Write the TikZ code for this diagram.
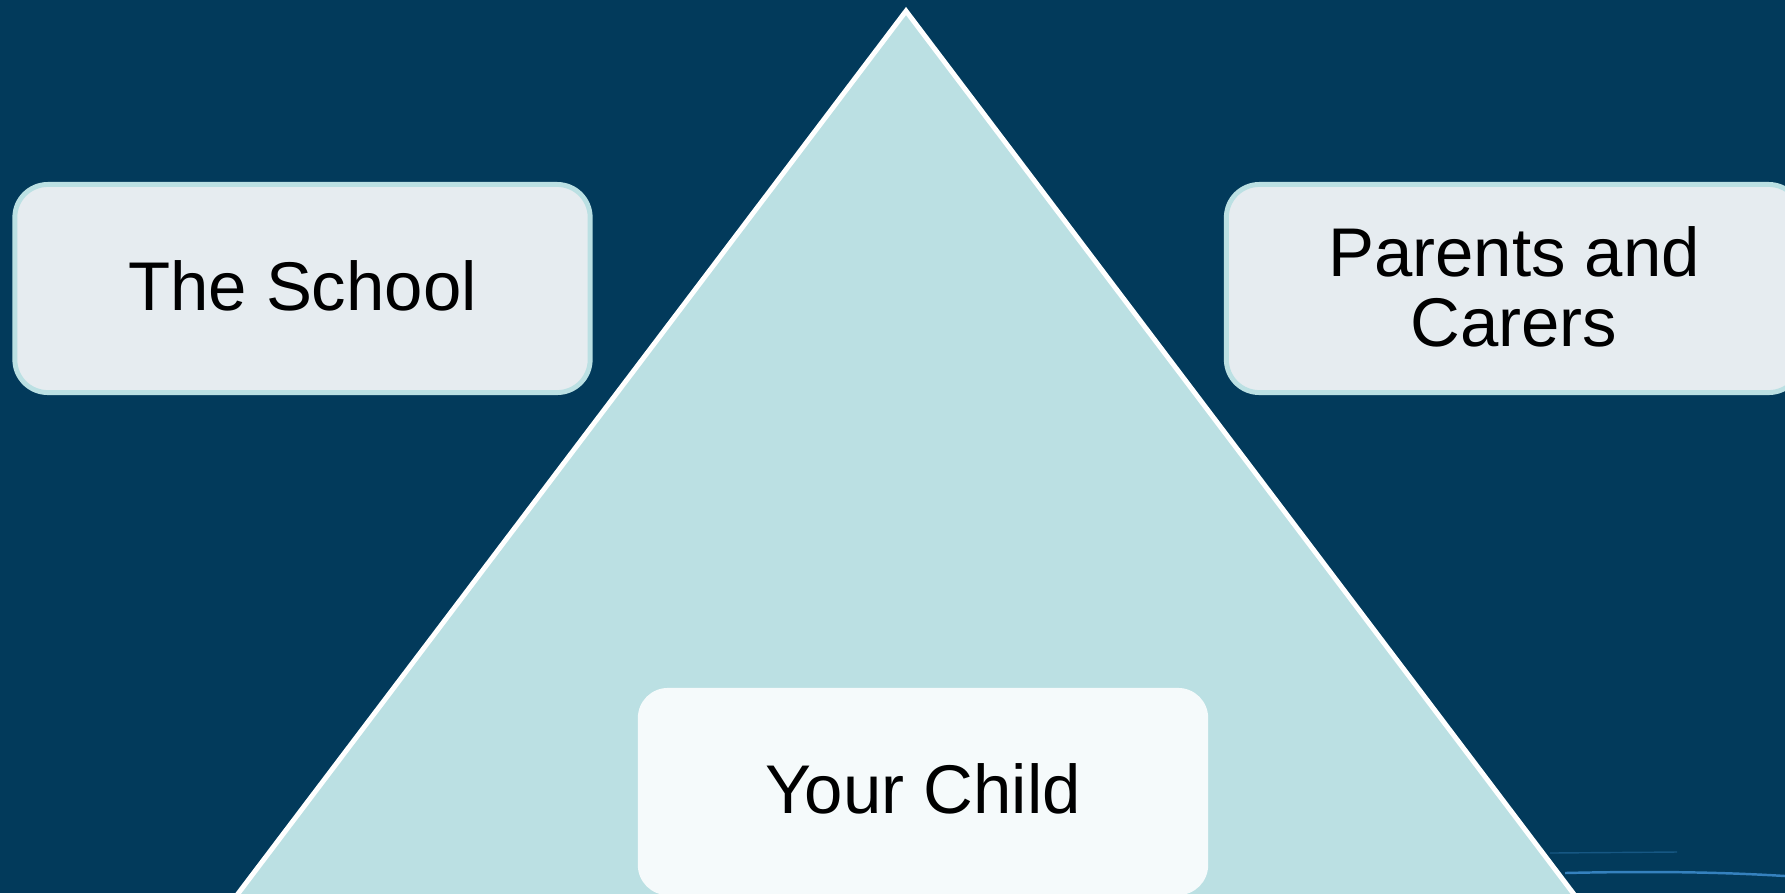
\documentclass[tikz,border=0pt]{standalone}
\usepackage{fontspec}
\setmainfont{Liberation Sans}
\usetikzlibrary{positioning}
\usetikzlibrary{calc}

\definecolor{navy}{HTML}{023A5B}
\definecolor{tealpale}{HTML}{BBE0E3}
\definecolor{boxgrey}{HTML}{E6ECF0}
\definecolor{childwhite}{HTML}{F5FAFB}
\definecolor{streak}{HTML}{3E8ED0}

\begin{document}
\begin{tikzpicture}[x=0.01cm, y=-0.01cm,
    partner/.style={draw=tealpale, line width=1.4pt, fill=boxgrey, rounded corners=0.33cm,
        minimum width=5.75cm, minimum height=2.08cm, align=center,
        text height=0.5cm, text depth=0.07cm,
        font=\fontsize{19.6pt}{19.8pt}\selectfont},
    childbox/.style={fill=childwhite, rounded corners=0.3cm,
        minimum width=5.7cm, minimum height=2.07cm,
        text height=0.5cm, text depth=0.07cm,
        font=\fontsize{19.6pt}{19.8pt}\selectfont}]
            \useasboundingbox (0,0) rectangle (1785,893);
            \clip (0,0) rectangle (1785,893);
            \fill[navy] (0,0) rectangle (1785,893);

            % streaks in the corner
            \draw[streak, line width=0.4pt, opacity=0.35] (1550,853) -- (1677,852);
            \draw[streak, line width=0.7pt, opacity=0.85] (1565,873) .. controls (1650,871) and (1720,872) .. (1785,876);

            % Triangle
            \coordinate (apex) at (906,11);
            \coordinate (baseleft) at ($(apex)!1.2!(238.5,893)$);
            \coordinate (baseright) at ($(apex)!1.2!(1573,893)$);
            \draw[white, fill=tealpale, line width=1.4pt, line join=miter]
                (baseleft) -- (apex) -- (baseright);

            % Boxes
            \node [partner] (school) at (302.5,288.5) {The School};
            \node [partner, text height=1.18cm, text depth=0.03cm] (parents) at (1514,288.5) {Parents and\\Carers};
            \node [childbox] (child) at (923,791.5) {Your Child};
\end{tikzpicture}
\end{document}
